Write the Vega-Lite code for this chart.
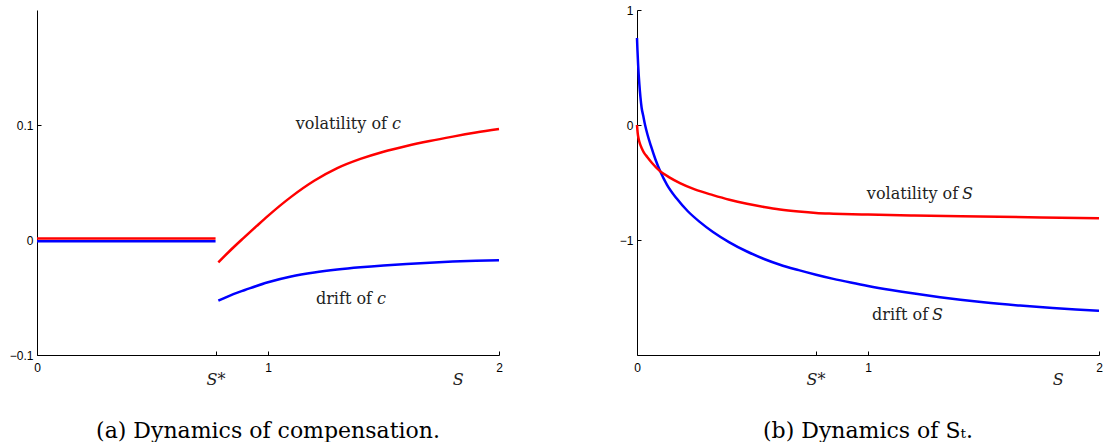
{
  "$schema": "https://vega.github.io/schema/vega-lite/v6.json",
  "padding": {"left": 0, "top": 4, "right": 0, "bottom": 0},
  "spacing": 113,
  "config": {
    "view": {"stroke": null},
    "axis": {
      "grid": false,
      "domainColor": "black",
      "domainWidth": 1,
      "tickColor": "black",
      "tickSize": -4,
      "labelFont": "Liberation Sans",
      "labelFontSize": 12,
      "labelColor": "black",
      "format": "~g",
      "title": null
    },
    "title": {"font": "DejaVu Serif", "fontSize": 22, "fontWeight": "normal", "color": "black"}
  },
  "datasets": {
    "a_lines": [
      {"series": "vol", "seg": "vf", "S": 0, "v": 0.0012},
      {"series": "vol", "seg": "vf", "S": 0.773, "v": 0.0012},
      {"series": "drift", "seg": "df", "S": 0, "v": -0.001},
      {"series": "drift", "seg": "df", "S": 0.773, "v": -0.001},
      {"series": "drift", "seg": "dc", "S": 0.785, "v": -0.0528},
      {"series": "drift", "seg": "dc", "S": 0.85, "v": -0.047},
      {"series": "drift", "seg": "dc", "S": 0.9, "v": -0.0435},
      {"series": "drift", "seg": "dc", "S": 1.0, "v": -0.0368},
      {"series": "drift", "seg": "dc", "S": 1.1, "v": -0.0318},
      {"series": "drift", "seg": "dc", "S": 1.2, "v": -0.0283},
      {"series": "drift", "seg": "dc", "S": 1.3, "v": -0.0257},
      {"series": "drift", "seg": "dc", "S": 1.4, "v": -0.0237},
      {"series": "drift", "seg": "dc", "S": 1.5, "v": -0.0221},
      {"series": "drift", "seg": "dc", "S": 1.6, "v": -0.0208},
      {"series": "drift", "seg": "dc", "S": 1.7, "v": -0.0197},
      {"series": "drift", "seg": "dc", "S": 1.8, "v": -0.0188},
      {"series": "drift", "seg": "dc", "S": 1.9, "v": -0.0181},
      {"series": "drift", "seg": "dc", "S": 2.0, "v": -0.0175},
      {"series": "vol", "seg": "vc", "S": 0.785, "v": -0.0194},
      {"series": "vol", "seg": "vc", "S": 0.85, "v": -0.0065},
      {"series": "vol", "seg": "vc", "S": 0.89, "v": 0.001},
      {"series": "vol", "seg": "vc", "S": 0.95, "v": 0.012},
      {"series": "vol", "seg": "vc", "S": 1.0, "v": 0.021},
      {"series": "vol", "seg": "vc", "S": 1.1, "v": 0.0375},
      {"series": "vol", "seg": "vc", "S": 1.2, "v": 0.0515},
      {"series": "vol", "seg": "vc", "S": 1.3, "v": 0.0625},
      {"series": "vol", "seg": "vc", "S": 1.4, "v": 0.0705},
      {"series": "vol", "seg": "vc", "S": 1.5, "v": 0.0768},
      {"series": "vol", "seg": "vc", "S": 1.6, "v": 0.0818},
      {"series": "vol", "seg": "vc", "S": 1.7, "v": 0.0861},
      {"series": "vol", "seg": "vc", "S": 1.8, "v": 0.0899},
      {"series": "vol", "seg": "vc", "S": 1.9, "v": 0.0934},
      {"series": "vol", "seg": "vc", "S": 2.0, "v": 0.0965}
    ],
    "b_lines": [
      {"series": "drift", "S": 0.0, "v": 0.757},
      {"series": "drift", "S": 0.002, "v": 0.65},
      {"series": "drift", "S": 0.005, "v": 0.52},
      {"series": "drift", "S": 0.01, "v": 0.36},
      {"series": "drift", "S": 0.015, "v": 0.24},
      {"series": "drift", "S": 0.02, "v": 0.15},
      {"series": "drift", "S": 0.027, "v": 0.08},
      {"series": "drift", "S": 0.035, "v": 0.0},
      {"series": "drift", "S": 0.045, "v": -0.08},
      {"series": "drift", "S": 0.06, "v": -0.18},
      {"series": "drift", "S": 0.08, "v": -0.3},
      {"series": "drift", "S": 0.1, "v": -0.4},
      {"series": "drift", "S": 0.13, "v": -0.52},
      {"series": "drift", "S": 0.172, "v": -0.64},
      {"series": "drift", "S": 0.22, "v": -0.75},
      {"series": "drift", "S": 0.27, "v": -0.84},
      {"series": "drift", "S": 0.329, "v": -0.93},
      {"series": "drift", "S": 0.4, "v": -1.02},
      {"series": "drift", "S": 0.476, "v": -1.1},
      {"series": "drift", "S": 0.55, "v": -1.165},
      {"series": "drift", "S": 0.619, "v": -1.215},
      {"series": "drift", "S": 0.7, "v": -1.262},
      {"series": "drift", "S": 0.775, "v": -1.302},
      {"series": "drift", "S": 0.85, "v": -1.338},
      {"series": "drift", "S": 0.925, "v": -1.37},
      {"series": "drift", "S": 1.0, "v": -1.4},
      {"series": "drift", "S": 1.1, "v": -1.435},
      {"series": "drift", "S": 1.2, "v": -1.466},
      {"series": "drift", "S": 1.312, "v": -1.497},
      {"series": "drift", "S": 1.4, "v": -1.519},
      {"series": "drift", "S": 1.5, "v": -1.541},
      {"series": "drift", "S": 1.658, "v": -1.57},
      {"series": "drift", "S": 1.8, "v": -1.592},
      {"series": "drift", "S": 1.9, "v": -1.605},
      {"series": "drift", "S": 2.0, "v": -1.615},
      {"series": "vol", "S": 0.0, "v": 0.0},
      {"series": "vol", "S": 0.003, "v": -0.07},
      {"series": "vol", "S": 0.007, "v": -0.12},
      {"series": "vol", "S": 0.013, "v": -0.165},
      {"series": "vol", "S": 0.02, "v": -0.2},
      {"series": "vol", "S": 0.03, "v": -0.24},
      {"series": "vol", "S": 0.045, "v": -0.28},
      {"series": "vol", "S": 0.065, "v": -0.33},
      {"series": "vol", "S": 0.097, "v": -0.397},
      {"series": "vol", "S": 0.14, "v": -0.455},
      {"series": "vol", "S": 0.186, "v": -0.505},
      {"series": "vol", "S": 0.25, "v": -0.56},
      {"series": "vol", "S": 0.329, "v": -0.61},
      {"series": "vol", "S": 0.4, "v": -0.65},
      {"series": "vol", "S": 0.476, "v": -0.685},
      {"series": "vol", "S": 0.55, "v": -0.713},
      {"series": "vol", "S": 0.619, "v": -0.735},
      {"series": "vol", "S": 0.7, "v": -0.753},
      {"series": "vol", "S": 0.775, "v": -0.765},
      {"series": "vol", "S": 0.85, "v": -0.771},
      {"series": "vol", "S": 1.0, "v": -0.779},
      {"series": "vol", "S": 1.2, "v": -0.787},
      {"series": "vol", "S": 1.485, "v": -0.796},
      {"series": "vol", "S": 1.75, "v": -0.804},
      {"series": "vol", "S": 2.0, "v": -0.811}
    ],
    "a_text": [
      {"S": 1.515, "v": 0.101, "t": "volatility of"},
      {"S": 1.45, "v": -0.0513, "t": "drift of"}
    ],
    "a_ital": [
      {"S": 1.537, "v": 0.101, "t": "c"},
      {"S": 1.472, "v": -0.0513, "t": "c"}
    ],
    "a_axis": [
      {"S": 0.775, "v": -0.1, "t": "S*"},
      {"S": 1.823, "v": -0.1, "t": "S"}
    ],
    "b_text": [
      {"S": 1.39, "v": -0.6, "t": "volatility of"},
      {"S": 1.26, "v": -1.652, "t": "drift of"}
    ],
    "b_ital": [
      {"S": 1.407, "v": -0.6, "t": "S"},
      {"S": 1.277, "v": -1.652, "t": "S"}
    ],
    "b_axis": [
      {"S": 0.775, "v": -2, "t": "S*"},
      {"S": 1.823, "v": -2, "t": "S"}
    ]
  },
  "hconcat": [
    {
      "width": 462,
      "height": 345,
      "title": {"text": "(a) Dynamics of compensation.", "orient": "bottom", "offset": 33},
      "layer": [
        {
          "mark": {"type": "rule", "color": "#808080", "strokeWidth": 1.5},
          "encoding": {"y": {"datum": 0, "type": "quantitative"}}
        },
        {
          "data": {"name": "a_lines"},
          "mark": {"type": "line", "strokeWidth": 2.5, "interpolate": "monotone"},
          "encoding": {
            "x": {"field": "S", "type": "quantitative", "scale": {"domain": [0, 2], "nice": false, "zero": false},
                  "axis": {"values": [0, 0.775, 1, 2], "labelExpr": "datum.value == 0.775 ? '' : datum.label", "labelPadding": 11, "labelFlush": false}},
            "y": {"field": "v", "type": "quantitative", "scale": {"domain": [-0.1, 0.2], "nice": false, "zero": false},
                  "axis": {"values": [-0.1, 0, 0.1], "labelPadding": 8, "minExtent": 37, "maxExtent": 37}},
            "color": {"field": "series", "type": "nominal", "scale": {"domain": ["drift", "vol"], "range": ["#0000ff", "#ff0000"]}, "legend": null},
            "detail": {"field": "seg", "type": "nominal"},
            "order": {"field": "S", "type": "quantitative"}
          }
        },
        {
          "data": {"name": "a_text"},
          "mark": {"type": "text", "font": "DejaVu Serif", "fontSize": 16, "align": "right", "baseline": "middle", "color": "#222"},
          "encoding": {"x": {"field": "S", "type": "quantitative"}, "y": {"field": "v", "type": "quantitative"}, "text": {"field": "t"}}
        },
        {
          "data": {"name": "a_ital"},
          "mark": {"type": "text", "font": "DejaVu Serif", "fontSize": 16, "fontStyle": "italic", "align": "left", "baseline": "middle", "color": "#222"},
          "encoding": {"x": {"field": "S", "type": "quantitative"}, "y": {"field": "v", "type": "quantitative"}, "text": {"field": "t"}}
        },
        {
          "data": {"name": "a_axis"},
          "mark": {"type": "text", "font": "DejaVu Serif", "fontSize": 16, "fontStyle": "italic", "align": "center", "baseline": "middle", "dy": 25, "color": "#222"},
          "encoding": {"x": {"field": "S", "type": "quantitative"}, "y": {"field": "v", "type": "quantitative"}, "text": {"field": "t"}}
        }
      ]
    },
    {
      "width": 462,
      "height": 345,
      "title": {"text": "(b) Dynamics of Sₜ.", "orient": "bottom", "offset": 33},
      "layer": [
        {
          "mark": {"type": "rule", "color": "#333333", "strokeWidth": 1},
          "encoding": {"y": {"datum": 0, "type": "quantitative"}}
        },
        {
          "data": {"name": "b_lines"},
          "mark": {"type": "line", "strokeWidth": 2.5, "interpolate": "monotone"},
          "encoding": {
            "x": {"field": "S", "type": "quantitative", "scale": {"domain": [0, 2], "nice": false, "zero": false},
                  "axis": {"values": [0, 0.775, 1, 2], "labelExpr": "datum.value == 0.775 ? '' : datum.label", "labelPadding": 11, "labelFlush": false}},
            "y": {"field": "v", "type": "quantitative", "scale": {"domain": [-2, 1], "nice": false, "zero": false},
                  "axis": {"values": [-1, 0, 1], "labelPadding": 8, "minExtent": 20, "maxExtent": 20}},
            "color": {"field": "series", "type": "nominal", "scale": {"domain": ["drift", "vol"], "range": ["#0000ff", "#ff0000"]}, "legend": null},
            "order": {"field": "S", "type": "quantitative"}
          }
        },
        {
          "data": {"name": "b_text"},
          "mark": {"type": "text", "font": "DejaVu Serif", "fontSize": 16, "align": "right", "baseline": "middle", "color": "#222"},
          "encoding": {"x": {"field": "S", "type": "quantitative"}, "y": {"field": "v", "type": "quantitative"}, "text": {"field": "t"}}
        },
        {
          "data": {"name": "b_ital"},
          "mark": {"type": "text", "font": "DejaVu Serif", "fontSize": 16, "fontStyle": "italic", "align": "left", "baseline": "middle", "color": "#222"},
          "encoding": {"x": {"field": "S", "type": "quantitative"}, "y": {"field": "v", "type": "quantitative"}, "text": {"field": "t"}}
        },
        {
          "data": {"name": "b_axis"},
          "mark": {"type": "text", "font": "DejaVu Serif", "fontSize": 16, "fontStyle": "italic", "align": "center", "baseline": "middle", "dy": 25, "color": "#222"},
          "encoding": {"x": {"field": "S", "type": "quantitative"}, "y": {"field": "v", "type": "quantitative"}, "text": {"field": "t"}}
        }
      ]
    }
  ]
}
